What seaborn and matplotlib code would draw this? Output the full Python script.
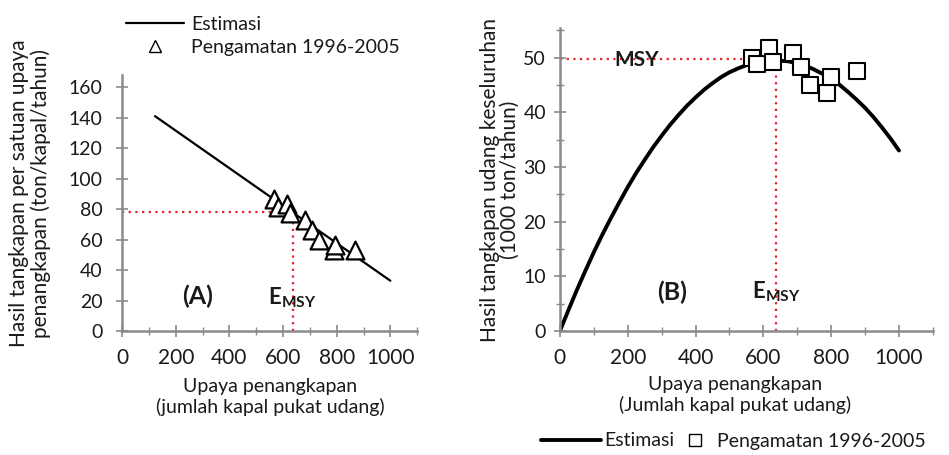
import matplotlib
matplotlib.use("Agg")
import matplotlib.pyplot as plt
import seaborn as sns
import pandas as pd
from matplotlib.lines import Line2D
from matplotlib.ticker import MultipleLocator

# ---------------- data ----------------
# Panel A: catch per unit effort vs effort
effort_obs_a = [565, 583, 615, 627, 683, 708, 733, 789, 795, 869]
cpue_obs = [86.6, 81.4, 83.3, 77.4, 73.0, 66.4, 60.0, 53.3, 56.6, 53.3]
effort_line_a = [123, 1000]
cpue_line = [141, 33]

# Panel B: total catch vs effort
effort_obs_b = [567, 580, 616, 628, 688, 712, 737, 787, 801, 875]
catch_obs = [50.0, 48.9, 51.8, 49.2, 50.9, 48.2, 45.0, 43.6, 46.5, 47.5]
effort_curve = [0, 25, 50, 75, 100, 125, 150, 175, 200, 225, 250, 275, 300,
                325, 350, 375, 400, 425, 450, 475, 500, 525, 550, 575, 600,
                625, 650, 675, 700, 725, 750, 775, 800, 825, 850, 875, 900,
                925, 950, 975, 1000]
catch_curve = [0.0, 3.8, 7.5, 11.0, 14.4, 17.6, 20.6, 23.5, 26.3, 28.9, 31.3,
               33.6, 35.7, 37.7, 39.5, 41.2, 42.7, 44.1, 45.3, 46.4, 47.3,
               48.0, 48.6, 49.0, 49.3, 49.5, 49.4, 49.3, 48.9, 48.5, 47.8,
               47.0, 46.1, 45.0, 43.7, 42.3, 40.8, 39.1, 37.2, 35.2, 33.0]

e_msy = 636
cpue_msy = 77.8
msy = 49.8

x_ticks = [0, 200, 400, 600, 800, 1000]
y_ticks_a = [0, 20, 40, 60, 80, 100, 120, 140, 160]
y_ticks_b = [0, 10, 20, 30, 40, 50]

df_obs_a = pd.DataFrame({"effort": effort_obs_a, "cpue": cpue_obs})
df_line_a = pd.DataFrame({"effort": effort_line_a, "cpue": cpue_line})
df_obs_b = pd.DataFrame({"effort": effort_obs_b, "catch": catch_obs})
df_curve_b = pd.DataFrame({"effort": effort_curve, "catch": catch_curve})

# ---------------- style ----------------
sns.set_theme(style="white")
plt.rcParams["font.family"] = ["Lato", "DejaVu Sans"]
plt.rcParams["mathtext.fontset"] = "custom"
plt.rcParams["mathtext.rm"] = "Lato"
plt.rcParams["mathtext.bf"] = "Lato:bold"

TXT = "#1a1a1a"
SPINE = "#8a8a8a"
RED = "#e8202a"
XTICKFS = 15
YTICKFS = 14
LABFS = 14

fig = plt.figure(figsize=(9.49, 4.55), dpi=100)
axA = fig.add_axes([0.1286, 0.2725, 0.311, 0.5626])
axB = fig.add_axes([0.590, 0.2725, 0.393, 0.666])


def style_axis(ax, ypad):
    for s in ["top", "right"]:
        ax.spines[s].set_visible(False)
    for s in ["left", "bottom"]:
        ax.spines[s].set_color(SPINE)
        ax.spines[s].set_linewidth(1.8)
    ax.tick_params(axis="both", which="major", direction="inout", length=8,
                   width=1.2, color=SPINE, labelcolor=TXT, left=True, bottom=True)
    ax.tick_params(axis="x", which="major", pad=8, labelsize=XTICKFS)
    ax.tick_params(axis="y", which="major", pad=ypad, labelsize=YTICKFS)
    ax.tick_params(axis="both", which="minor", direction="inout", length=6,
                   width=1.0, color=SPINE, left=True, bottom=True)
    ax.set_xlabel("")
    ax.set_ylabel("")


# ---------------- panel A ----------------
axA.plot([0, e_msy], [cpue_msy, cpue_msy], color=RED, ls=(0, (1, 2)), lw=1.6, zorder=1)
axA.plot([e_msy, e_msy], [0, cpue_msy], color=RED, ls=(0, (1, 2)), lw=1.6, zorder=1)
sns.lineplot(data=df_line_a, x="effort", y="cpue", ax=axA, color="black", lw=1.6, zorder=2)
sns.scatterplot(data=df_obs_a, x="effort", y="cpue", ax=axA, marker="^", s=165,
                facecolor="white", edgecolor="black", linewidth=1.6, zorder=3)
axA.set_xlim(0, 1100)
axA.set_ylim(0, 168)
axA.set_xticks(x_ticks)
axA.set_yticks(y_ticks_a)
axA.xaxis.set_minor_locator(MultipleLocator(100))
style_axis(axA, ypad=10)
axA.text(280, 23, "(A)", fontsize=18, fontweight="bold", color=TXT, ha="center", va="center")
axA.text(545, 22, r"$\mathbf{E}_{\mathbf{MSY}}$", fontsize=16, color=TXT, ha="left", va="center")

legA_handles = [Line2D([], [], color="black", lw=1.6),
                Line2D([], [], color="black", marker="^", ls="none", markersize=8,
                       markerfacecolor="white", markeredgewidth=1.0)]
fig.legend(legA_handles, ["Estimasi", "Pengamatan 1996-2005"], loc="upper left",
           bbox_to_anchor=(118 / 949, 1 - 8 / 455), frameon=False, fontsize=LABFS,
           handlelength=3.0, handletextpad=0.35, labelspacing=0.3, borderaxespad=0,
           labelcolor=TXT)

# ---------------- panel B ----------------
axB.plot([0, e_msy], [msy, msy], color=RED, ls=(0, (1, 2)), lw=1.6, zorder=1)
axB.plot([e_msy, e_msy], [0, msy], color=RED, ls=(0, (1, 2)), lw=1.6, zorder=1)
sns.lineplot(data=df_curve_b, x="effort", y="catch", ax=axB, color="black", lw=2.8, zorder=2)
sns.scatterplot(data=df_obs_b, x="effort", y="catch", ax=axB, marker="s", s=130,
                facecolor="white", edgecolor="black", linewidth=1.5, zorder=3)
axB.set_xlim(0, 1100)
axB.set_ylim(0, 55.4)
axB.set_xticks(x_ticks)
axB.set_yticks(y_ticks_b)
axB.xaxis.set_minor_locator(MultipleLocator(100))
axB.yaxis.set_minor_locator(MultipleLocator(5))
style_axis(axB, ypad=6)
axB.text(160, 49.5, "MSY", fontsize=15, fontweight="bold", color=TXT, ha="left", va="center")
axB.text(330, 7.0, "(B)", fontsize=18, fontweight="bold", color=TXT, ha="center", va="center")
axB.text(568, 7.2, r"$\mathbf{E}_{\mathbf{MSY}}$", fontsize=16, color=TXT, ha="left", va="center")

fig.legend([Line2D([], [], color="black", lw=2.8)], ["Estimasi"], loc="center left",
           bbox_to_anchor=(533 / 949, 1 - 441 / 455), frameon=False, fontsize=LABFS,
           handlelength=3.1, handletextpad=0.15, borderaxespad=0, labelcolor=TXT)
fig.legend([Line2D([], [], color="black", marker="s", ls="none", markersize=8,
                   markerfacecolor="white", markeredgewidth=1.0)],
           ["Pengamatan 1996-2005"], loc="center left",
           bbox_to_anchor=(676 / 949, 1 - 441 / 455), frameon=False, fontsize=LABFS,
           handlelength=1.2, handletextpad=0.5, borderaxespad=0, labelcolor=TXT)

# ---------------- axis titles ----------------
fig.text(30 / 949, 1 - 193 / 455,
         "Hasil tangkapan per satuan upaya\npenangkapan (ton/kapal/tahun)",
         rotation=90, ha="center", va="center", fontsize=15, color=TXT, linespacing=1.1)
fig.text(270 / 949, 1 - 397 / 455, "Upaya penangkapan\n(jumlah kapal pukat udang)",
         ha="center", va="center", fontsize=LABFS, color=TXT, linespacing=1.25)
fig.text(500 / 949, 1 - 180 / 455,
         "Hasil tangkapan udang keseluruhan\n(1000 ton/tahun)",
         rotation=90, ha="center", va="center", fontsize=15, color=TXT, linespacing=0.95)
fig.text(735 / 949, 1 - 395 / 455, "Upaya penangkapan\n(Jumlah kapal pukat udang)",
         ha="center", va="center", fontsize=LABFS, color=TXT, linespacing=1.25)

fig.savefig("out.png", dpi=100)
